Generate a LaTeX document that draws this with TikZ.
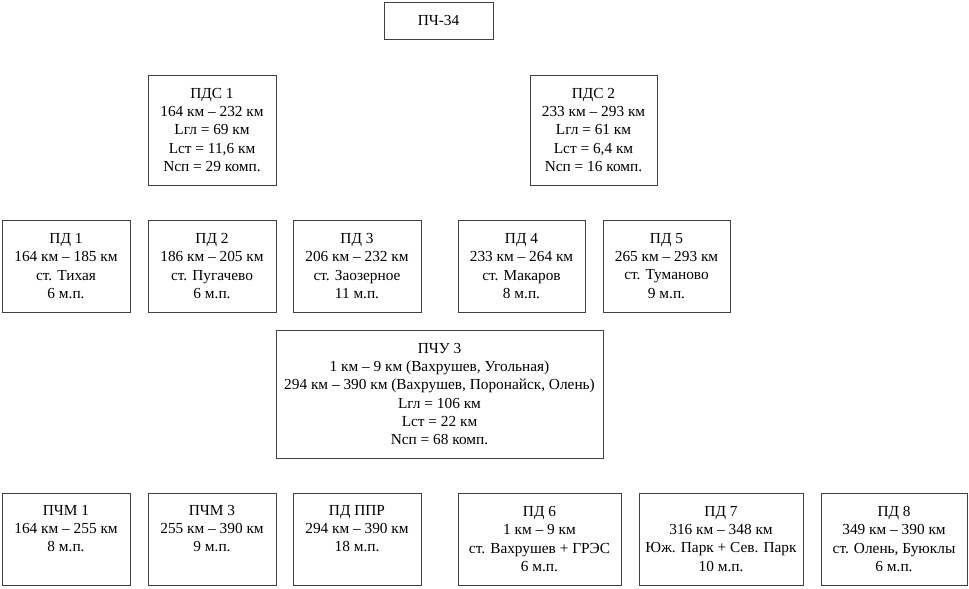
\documentclass[tikz,border=0pt]{standalone}
\usepackage{fontspec}
\setmainfont{Liberation Serif}
\usetikzlibrary{positioning}

\begin{document}
\begin{tikzpicture}[x=0.75pt, y=-0.75pt,
        unit/.style={draw=black!75, line width=0.65pt, align=center, inner sep=0pt,
            font=\fontsize{11.5}{13.6}\selectfont, minimum width=96pt, minimum height=69pt},
        short/.style={unit, text depth=16pt},
        head/.style={unit, minimum width=81.75pt, minimum height=27.75pt},
        group/.style={unit, minimum height=82.5pt}
    ]
        \useasboundingbox (0,0) rectangle (969,588);

        \node[head] (pch) at (438.5,20.5) {ПЧ-34};

        \node[group] (pds1) at (212,130) {ПДС 1\\164 км -- 232 км\\Lгл = 69 км\\Lст = 11,6 км\\Nсп = 29 комп.};
        \node[group, minimum width=95.25pt] (pds2) at (593.5,130) {ПДС 2\\233 км -- 293 км\\Lгл = 61 км\\Lст = 6,4 км\\Nсп = 16 комп.};

        \node[unit] (pd1) at (66,266) {ПД 1\\164 км -- 185 км\\ст. Тихая\\6 м.п.};
        \node[unit] (pd2) at (212,266) {ПД 2\\186 км -- 205 км\\ст. Пугачево\\6 м.п.};
        \node[unit] (pd3) at (357,266) {ПД 3\\206 км -- 232 км\\ст. Заозерное\\11 м.п.};
        \node[unit, minimum width=95.25pt] (pd4) at (521.5,266) {ПД 4\\233 км -- 264 км\\ст. Макаров\\8 м.п.};
        \node[unit, minimum width=95.25pt] (pd5) at (666.5,266) {ПД 5\\265 км -- 293 км\\ст. Туманово\\9 м.п.};

        \node[unit, minimum width=245.25pt, minimum height=96pt] (pchu) at (439.5,394)
            {ПЧУ 3\\1 км -- 9 км (Вахрушев, Угольная)\\294 км -- 390 км (Вахрушев, Поронайск, Олень)\\Lгл = 106 км\\Lст = 22 км\\Nсп = 68 комп.};

        \node[short] (pchm1) at (66,539) {ПЧМ 1\\164 км -- 255 км\\8 м.п.};
        \node[short] (pchm3) at (212,539) {ПЧМ 3\\255 км -- 390 км\\9 м.п.};
        \node[short] (pdppr) at (357,539) {ПД ППР\\294 км -- 390 км\\18 м.п.};
        \node[unit, minimum width=122.25pt] (pd6) at (539.5,539) {ПД 6\\1 км -- 9 км\\ст. Вахрушев + ГРЭС\\6 м.п.};
        \node[unit, minimum width=123pt] (pd7) at (721,539) {ПД 7\\316 км -- 348 км\\Юж. Парк + Сев. Парк\\10 м.п.};
        \node[unit, minimum width=109.5pt] (pd8) at (894,539) {ПД 8\\349 км -- 390 км\\ст. Олень, Буюклы\\6 м.п.};
    \end{tikzpicture}
\end{document}
